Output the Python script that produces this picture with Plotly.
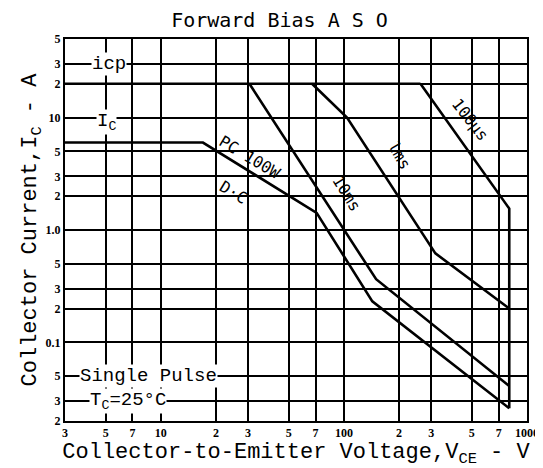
import numpy as np
import plotly.graph_objects as go

# ---- data ----
icp_v = [3, 262]
icp_i = [20, 20]
dc_v = [3, 17, 71, 143, 800]
dc_i = [6, 6, 1.42, 0.232, 0.026]
ms10_v = [30.5, 150, 800]
ms10_i = [20, 0.365, 0.041]
ms1_v = [67, 104, 316, 800]
ms1_i = [20, 10, 0.62, 0.2]
us100_v = [262, 735, 800, 800]
us100_i = [20, 1.9, 1.55, 0.026]

x_grid = [3, 5, 7, 10, 20, 30, 50, 70, 100, 200, 300, 500, 700, 1000]
x_text = ["3", "5", "7", "10", "2", "3", "5", "7", "100", "2", "3", "5", "7", "1000"]
y_grid = [0.02, 0.03, 0.05, 0.1, 0.2, 0.3, 0.5, 1, 2, 3, 5, 10, 20, 30, 50]
y_text = ["2", "3", "5", "0.1", "2", "3", "5", "1.0", "2", "3", "5", "10", "2", "3", "5"]

fig = go.Figure()
line = dict(color="black", width=2.6)
for v, i in [(icp_v, icp_i), (dc_v, dc_i), (ms10_v, ms10_i), (ms1_v, ms1_i), (us100_v, us100_i)]:
    fig.add_trace(go.Scatter(x=v, y=i, mode="lines", line=line, showlegend=False, hoverinfo="skip"))

lab_font = dict(family="Liberation Mono", size=19, color="black")
rot_font = dict(family="DejaVu Sans Mono", size=16, color="black")
L = np.log10
ann = [
    dict(x=L(5.2), y=L(30), text="icp", font=lab_font, bgcolor="white"),
    dict(x=L(5.06), y=L(9.2), text="I<sub>C</sub>", font=lab_font, bgcolor="white"),
    dict(x=L(8.6), y=L(0.05), text="Single Pulse", font=lab_font, bgcolor="white"),
    dict(x=L(6.65), y=L(0.03), text="T<sub>C</sub>=25°C", font=lab_font, bgcolor="white"),
    dict(x=L(32), y=L(3.7), text="PC 100W", font=rot_font, textangle=31, yshift=9, xshift=-3),
    dict(x=L(25), y=L(2.3), text="D·C", font=rot_font, textangle=31, yshift=-3),
    dict(x=L(89), y=L(2.1), text="10ms", font=rot_font, textangle=58, xshift=12),
    dict(x=L(173), y=L(4.6), text="lms", font=rot_font, textangle=60, xshift=12),
    dict(x=L(420), y=L(9.0), text="100μs", font=rot_font, textangle=52, xshift=12, yshift=3),
]
for a in ann:
    a.update(xref="x", yref="y", showarrow=False, borderpad=0)
    fig.add_annotation(**a)

tick_font = dict(family="Liberation Sans Narrow", size=12, color="black", weight="bold")
fig.update_xaxes(type="log", range=[L(3), L(1000)], tickvals=x_grid, ticktext=x_text,
                 showgrid=True, gridcolor="black", gridwidth=1.6, showline=True, linecolor="black",
                 linewidth=2, mirror=True, ticks="", tickfont=tick_font,
                 title=dict(text="Collector-to-Emitter Voltage,V<sub>CE</sub> - V",
                            font=dict(family="Liberation Mono", size=22, color="black"), standoff=0),
                 zeroline=False)
fig.update_yaxes(type="log", range=[L(0.02), L(50)], tickvals=y_grid, ticktext=y_text,
                 showgrid=True, gridcolor="black", gridwidth=1.6, showline=True, linecolor="black",
                 linewidth=2, mirror=True, ticks="", tickfont=tick_font,
                 title=dict(text="Collector Current,I<sub>C</sub> - A",
                            font=dict(family="Liberation Mono", size=22, color="black"), standoff=2),
                 zeroline=False)
fig.update_layout(
    width=543, height=468,
    margin=dict(l=57, r=13, t=31, b=55),
    paper_bgcolor="white", plot_bgcolor="white",
    title=dict(text="Forward Bias A S O", x=0.5, xanchor="center", y=0.99, yanchor="top",
               font=dict(family="DejaVu Sans Mono", size=20, color="black")),
)
fig.write_html("out.html")
